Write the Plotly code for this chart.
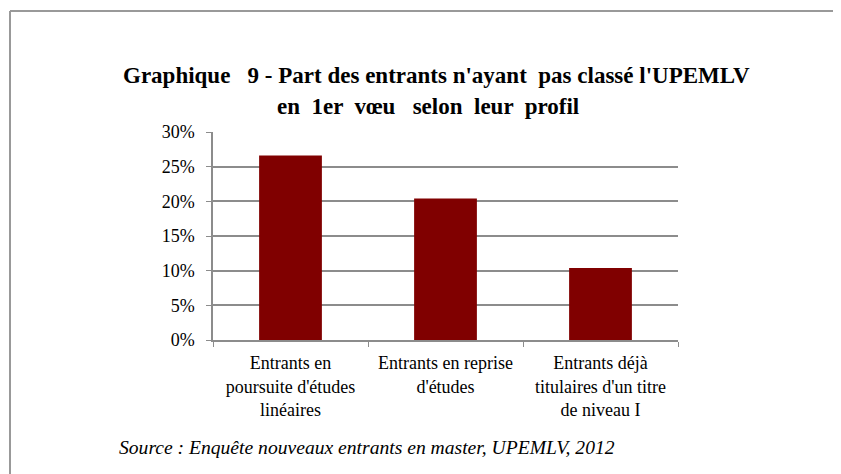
import plotly.graph_objects as go

# données
categories = [
    "Entrants en<br>poursuite d'études<br>linéaires",
    "Entrants en reprise<br>d'études",
    "Entrants déjà<br>titulaires d'un titre<br>de niveau I",
]
values = [26.6, 20.4, 10.4]
y_ticks = [0, 5, 10, 15, 20, 25, 30]
y_labels = [f"{v}%" for v in y_ticks]

# la page place la figure à (8, 8) : on la réduit d'autant
OFF = 8
W, H = 841 - OFF, 474 - OFF
L, R, T, B = 213, 678, 132, 340   # zone de tracé, pixels de la page

def px_x(x):
    return (x - L) / (R - L)

def px_y(y):
    return (B - y) / (B - T)

grid_col = "#8c8c8c"
serif = "Liberation Serif"

fig = go.Figure()
fig.add_trace(go.Bar(
    x=categories, y=values,
    marker=dict(color="#800000", line=dict(width=0)),
    width=0.405,
))

fig.update_layout(
    width=W, height=H,
    margin=dict(l=L - OFF, r=841 - R, t=T - OFF, b=474 - B, pad=0),
    paper_bgcolor="white", plot_bgcolor="white",
    showlegend=False,
    font=dict(family=serif, size=18, color="black"),
    xaxis=dict(
        showgrid=False, showline=True, linecolor=grid_col, linewidth=1.5,
        ticks="outside", tickson="boundaries", ticklen=5, tickcolor=grid_col,
        tickfont=dict(family=serif, size=18), ticklabelstandoff=6,
        fixedrange=True,
    ),
    yaxis=dict(
        range=[0, 30], tickvals=y_ticks, ticktext=y_labels,
        showgrid=True, gridcolor=grid_col, gridwidth=1.5,
        showline=True, linecolor=grid_col, linewidth=1.5,
        ticks="outside", ticklen=5, tickcolor=grid_col,
        tickfont=dict(family=serif, size=18), ticklabelstandoff=8,
        zeroline=False,
    ),
)

fig.add_annotation(
    text="<b>Graphique   9 - Part des entrants n'ayant  pas classé l'UPEMLV</b>",
    xref="paper", yref="paper", x=px_x(436), y=px_y(75),
    xanchor="center", yanchor="middle", showarrow=False,
    font=dict(family=serif, size=23),
)
fig.add_annotation(
    text="<b>en  1er  vœu   selon  leur  profil</b>",
    xref="paper", yref="paper", x=px_x(428), y=px_y(106),
    xanchor="center", yanchor="middle", showarrow=False,
    font=dict(family=serif, size=23),
)
fig.add_annotation(
    text="<i>Source : Enquête nouveaux entrants en master, UPEMLV, 2012</i>",
    xref="paper", yref="paper", x=px_x(117), y=px_y(447),
    xanchor="left", yanchor="middle", showarrow=False,
    font=dict(family=serif, size=19.6),
)

# cadre gris du graphique
fig.add_shape(type="line", xref="paper", yref="paper",
              x0=px_x(10), x1=px_x(850), y0=px_y(11), y1=px_y(11),
              line=dict(color="#999999", width=2))
fig.add_shape(type="line", xref="paper", yref="paper",
              x0=px_x(10), x1=px_x(10), y0=px_y(11), y1=px_y(480),
              line=dict(color="#999999", width=2))

fig.write_html("out.html")
